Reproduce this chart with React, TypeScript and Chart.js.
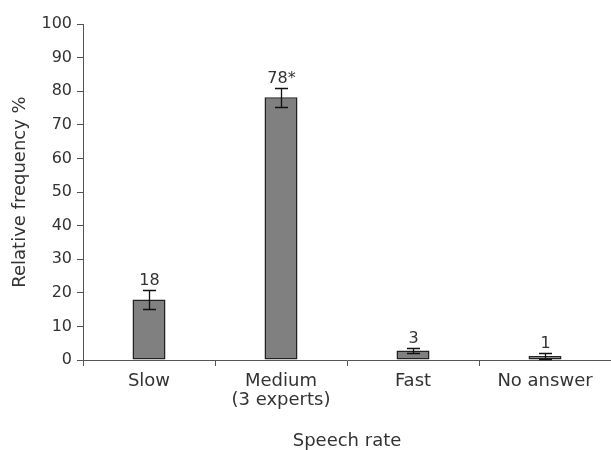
import React, { useEffect, useRef } from "react";
import { Chart, registerables } from "chart.js";

Chart.register(...registerables);

const categories: (string | string[])[] = ["Slow", ["Medium", "(3 experts)"], "Fast", "No answer"];
const values = [18, 78.2, 2.8, 1.2];
const errors = [2.8, 2.8, 0.8, 1.0];
const valueLabels = ["18", "78*", "3", "1"];
const yTicks = [0, 10, 20, 30, 40, 50, 60, 70, 80, 90, 100];

const FONT = "'DejaVu Sans', Verdana, sans-serif";
const TEXT = "#333333";

const errorPlugin = {
  id: "errorBarsAndLabels",
  afterDatasetsDraw(chart: any) {
    const { ctx, scales } = chart;
    const meta = chart.getDatasetMeta(0);
    ctx.save();
    meta.data.forEach((bar: any, i: number) => {
      const x = Math.round(bar.x) + 0.5;
      const top = Math.round(scales.y.getPixelForValue(values[i] + errors[i])) + 0.5;
      const bot = Math.round(scales.y.getPixelForValue(Math.max(0, values[i] - errors[i]))) + 0.5;
      ctx.strokeStyle = "#111";
      ctx.lineWidth = 1.3;
      ctx.beginPath();
      ctx.moveTo(x, top);
      ctx.lineTo(x, bot);
      ctx.moveTo(x - 6.5, top);
      ctx.lineTo(x + 6.5, top);
      ctx.moveTo(x - 6.5, bot);
      ctx.lineTo(x + 6.5, bot);
      ctx.stroke();
      ctx.fillStyle = TEXT;
      ctx.font = `16px ${FONT}`;
      ctx.textAlign = "center";
      ctx.textBaseline = "alphabetic";
      ctx.fillText(valueLabels[i], x, top - 6);
    });
    ctx.restore();
  },
};

export default function App() {
  const ref = useRef<HTMLCanvasElement>(null);
  useEffect(() => {
    document.body.style.margin = "0";
    const chart = new Chart(ref.current!, {
      type: "bar",
      data: {
        labels: categories as any,
        datasets: [
          {
            data: values,
            backgroundColor: "#808080",
            borderColor: "#222222",
            borderWidth: 1.5,
            borderSkipped: false,
            categoryPercentage: 1,
            barPercentage: 0.25,
          },
        ],
      },
      options: {
        animation: false,
        responsive: false,
        maintainAspectRatio: false,
        layout: { padding: { top: 24, right: 0, left: 0, bottom: 0 } },
        plugins: { legend: { display: false }, tooltip: { enabled: false } },
        scales: {
          x: {
            offset: true,
            grid: {
              offset: true,
              display: true,
              drawOnChartArea: false,
              drawTicks: true,
              tickLength: 6,
              color: "#555",
            },
            border: { display: true, color: "#555", width: 1 },
            ticks: {
              color: TEXT,
              font: { family: FONT, size: 18, lineHeight: 1.1 },
              padding: 5,
              maxRotation: 0,
            },
            title: {
              display: true,
              text: "Speech rate",
              color: TEXT,
              font: { family: FONT, size: 18, lineHeight: 1.0 },
              padding: { top: 0, bottom: 0 },
            },
            afterFit(scale: any) {
              scale.height = 90;
            },
          },
          y: {
            min: 0,
            max: 100,
            afterBuildTicks(scale: any) {
              scale.ticks = yTicks.map((v) => ({ value: v }));
            },
            grid: {
              display: true,
              drawOnChartArea: false,
              drawTicks: true,
              tickLength: 6,
              color: "#555",
            },
            border: { display: true, color: "#555", width: 1 },
            ticks: { color: TEXT, font: { family: FONT, size: 16 }, padding: 5 },
            title: {
              display: true,
              text: "Relative frequency %",
              color: TEXT,
              font: { family: FONT, size: 18 },
              padding: { top: 10, bottom: 0 },
            },
            afterFit(scale: any) {
              scale.width = 83;
            },
          },
        },
      },
      plugins: [errorPlugin],
    });
    return () => chart.destroy();
  }, []);
  return (
    <div style={{ width: 611, height: 450, background: "#fff" }}>
      <canvas ref={ref} width={611} height={450} />
    </div>
  );
}
